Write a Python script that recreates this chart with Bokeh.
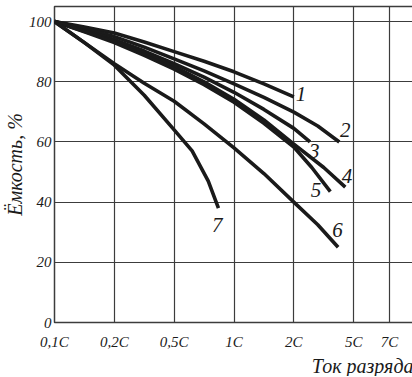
from bokeh.plotting import figure
from bokeh.models import FixedTicker, Label, Range1d, Title
from bokeh.embed import file_html
from bokeh.resources import INLINE

# x positions are the index positions on the (non-uniform) discharge-current axis
tick_pos = [0, 1, 2, 3, 4, 5, 5.6]
tick_labels = ["0,1C", "0,2C", "0,5C", "1C", "2C", "5C", "7C"]
y_ticks = [0, 20, 40, 60, 80, 100]

c1_x = [0, 0.5, 1, 1.5, 2, 2.5, 3, 3.5, 4]
c1_y = [100, 98.2, 96.2, 93.2, 90, 86.8, 83.3, 79.3, 75]
c2_x = [0, 0.5, 1, 1.5, 2, 2.5, 3, 3.5, 4, 4.4, 4.76]
c2_y = [100, 97.6, 95, 91.5, 87.6, 83.6, 79.3, 74.8, 69.9, 65.3, 60]
c3_x = [0, 0.5, 1, 1.5, 2, 2.5, 3, 3.5, 4, 4.27]
c3_y = [100, 97, 94, 90.2, 86, 81.5, 76.5, 70.8, 64.5, 60]
c4_x = [0, 0.5, 1, 1.5, 2, 2.5, 3, 3.5, 4, 4.5, 4.86]
c4_y = [100, 96.8, 93.5, 89.5, 85, 80, 74.2, 67.3, 59.3, 51.5, 45]
c5_x = [0, 0.5, 1, 1.5, 2, 2.5, 3, 3.5, 4, 4.3, 4.61]
c5_y = [100, 96.6, 93, 88.8, 84.2, 79, 73.2, 66.2, 58.3, 51.5, 43.5]
c6_x = [0, 0.5, 1, 1.5, 2, 2.5, 3, 3.5, 4, 4.4, 4.74]
c6_y = [100, 93, 86, 79.5, 73.5, 66, 58, 49.5, 40, 32.5, 25]
c7_x = [0, 0.5, 1, 1.5, 2, 2.3, 2.57, 2.74]
c7_y = [100, 93, 85.5, 75.5, 64, 57, 47, 38]

curve_names = ["1", "2", "3", "4", "5", "6", "7"]
name_x = [4.12, 4.86, 4.34, 4.89, 4.37, 4.73, 2.72]
name_y = [75.8, 64.1, 57.0, 48.8, 44.0, 30.9, 32.5]

FONT = "Liberation Serif"
INK = "#1a1a1a"
GRID = "#3c3c3c"

p = figure(frame_width=359, frame_height=316, output_backend="svg", toolbar_location=None,
           x_range=Range1d(0, 6), y_range=Range1d(0, 105),
           min_border_left=49, min_border_right=2, min_border_top=6, min_border_bottom=0)
p.background_fill_color = "white"
p.border_fill_color = "white"
p.outline_line_color = GRID
p.outline_line_width = 1.5

p.xaxis.ticker = FixedTicker(ticks=tick_pos)
p.xaxis.major_label_overrides = {t: l for t, l in zip(tick_pos, tick_labels)}
p.yaxis.ticker = FixedTicker(ticks=y_ticks)
for ax in (p.xaxis, p.yaxis):
    ax.axis_line_color = None
    ax.major_tick_line_color = None
    ax.minor_tick_line_color = None
    ax.major_tick_out = 0
    ax.major_tick_in = 0
    ax.major_label_text_font = FONT
    ax.major_label_text_font_style = "italic"
    ax.major_label_text_font_size = "15px"
    ax.major_label_text_color = INK
    ax.axis_label_text_font = FONT
    ax.axis_label_text_font_style = "italic"
    ax.axis_label_text_font_size = "20px"
    ax.axis_label_text_color = INK
    ax.axis_label_standoff = 0
p.xaxis.major_label_standoff = 11
p.yaxis.major_label_standoff = 3

p.yaxis.axis_label = "Ёмкость, %"

xt = Title(text="Ток разряда", align="right", text_font=FONT, text_font_style="italic",
           text_font_size="20px", text_color=INK, standoff=0)
p.add_layout(xt, "below")

p.xgrid.ticker = FixedTicker(ticks=tick_pos)
p.ygrid.ticker = FixedTicker(ticks=y_ticks)
for g in (p.xgrid, p.ygrid):
    g.grid_line_color = GRID
    g.grid_line_width = 1.2

for xs, ys in [(c1_x, c1_y), (c2_x, c2_y), (c3_x, c3_y), (c4_x, c4_y),
               (c5_x, c5_y), (c6_x, c6_y), (c7_x, c7_y)]:
    p.line(xs, ys, line_color=INK, line_width=3.6, line_join="round")

for n, x, y in zip(curve_names, name_x, name_y):
    p.add_layout(Label(x=x, y=y, text=n, text_font=FONT, text_font_style="italic",
                       text_font_size="21px", text_color=INK,
                       text_align="center", text_baseline="middle"))

open("out.html", "w").write(file_html(p, INLINE))
